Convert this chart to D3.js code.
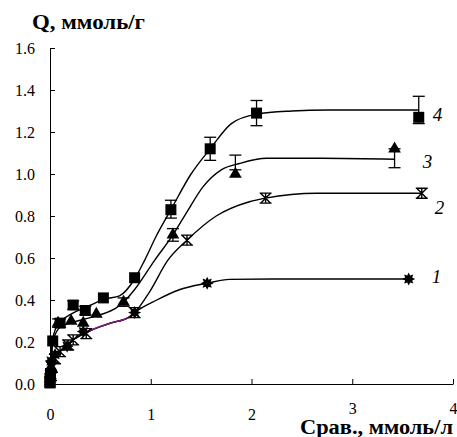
<!DOCTYPE html>
<html>
<head>
<meta charset="utf-8">
<script src="https://cdn.jsdelivr.net/npm/d3@7/dist/d3.min.js"></script>
<style>
  html, body { margin: 0; padding: 0; background: #fff; }
  svg { display: block; }
  svg text { font-family: "Liberation Serif", "Times New Roman", Times, "DejaVu Serif", serif !important; fill: #000; }
</style>
</head>
<body>
<svg id="chart" width="457" height="437"></svg>
<script>
// ---------- data ----------
const xTicks = [0, 1, 2, 3, 4];
const yTicks = [0, 0.2, 0.4, 0.6, 0.8, 1.0, 1.2, 1.4, 1.6];
const yTitle = "Q, ммоль/г";
const xTitle = "Срав., ммоль/л";
const seriesNames = ["1", "2", "3", "4"];

// measured points (markers)
const s4x = [0, 0, 0.005, 0.027, 0.1, 0.23, 0.35, 0.53, 0.84, 1.2, 1.59, 2.05, 3.66];
const s4y = [0.005, 0.025, 0.05, 0.205, 0.29, 0.376, 0.35, 0.41, 0.506, 0.83, 1.12, 1.29, 1.27];
const s4lo = [0, 0, 0, 0, 0.27, 0.356, 0.33, 0, 0, 0.79, 1.065, 1.23, 1.24];
const s4hi = [0, 0, 0, 0, 0.31, 0.396, 0.37, 0, 0, 0.875, 1.175, 1.35, 1.37];

const s3x = [0, 0.005, 0.01, 0.08, 0.21, 0.33, 0.46, 0.73, 1.22, 1.84, 3.42];
const s3y = [0.01, 0.04, 0.08, 0.29, 0.30, 0.29, 0.333, 0.39, 0.71, 1.0, 1.12];
const s3lo = [0, 0, 0, 0.27, 0, 0, 0, 0.37, 0.68, 1.02, 1.03];
const s3hi = [0, 0, 0, 0.31, 0, 0, 0, 0.41, 0.74, 1.09, 1.12];

const s2x = [0, 0.01, 0.02, 0.05, 0.1, 0.18, 0.23, 0.36, 0.84, 1.36, 2.14, 3.69];
const s2y = [0.01, 0.04, 0.08, 0.12, 0.154, 0.186, 0.21, 0.24, 0.34, 0.685, 0.885, 0.908];

const s1x = [0, 0.005, 0.01, 0.05, 0.17, 0.33, 0.84, 1.56, 3.56];
const s1y = [0.01, 0.05, 0.11, 0.14, 0.18, 0.25, 0.34, 0.48, 0.50];

// smoothed fitted curves
const c4x = [0, 0.01, 0.03, 0.08, 0.2, 0.4, 0.55, 0.69, 0.84, 0.94, 1.05, 1.2, 1.4, 1.59, 1.8, 2.05, 2.4, 2.76, 3.66];
const c4y = [0, 0.12, 0.22, 0.285, 0.33, 0.375, 0.405, 0.42, 0.5, 0.59, 0.7, 0.83, 1.0, 1.12, 1.24, 1.285, 1.3, 1.305, 1.305];
const c3x = [0, 0.01, 0.04, 0.1, 0.2, 0.35, 0.5, 0.65, 0.73, 0.84, 1.04, 1.22, 1.36, 1.52, 1.7, 1.88, 2.15, 2.7, 3.42];
const c3y = [0, 0.1, 0.22, 0.27, 0.29, 0.31, 0.33, 0.36, 0.39, 0.45, 0.59, 0.71, 0.82, 0.94, 1.02, 1.05, 1.075, 1.075, 1.07];
const c2x = [0, 0.01, 0.05, 0.1, 0.2, 0.38, 0.6, 0.79, 0.84, 0.99, 1.17, 1.36, 1.65, 1.98, 2.14, 2.65, 3.69];
const c2y = [0, 0.06, 0.12, 0.155, 0.2, 0.25, 0.29, 0.32, 0.34, 0.44, 0.59, 0.685, 0.8, 0.868, 0.885, 0.908, 0.908];
const c1x = [0, 0.01, 0.05, 0.1, 0.2, 0.38, 0.6, 0.79, 0.84, 1.06, 1.29, 1.56, 1.78, 2.2, 3.56];
const c1y = [0, 0.06, 0.12, 0.155, 0.2, 0.25, 0.29, 0.32, 0.34, 0.40, 0.45, 0.48, 0.498, 0.5, 0.5];
const purpleRange = [0.38, 0.80];

// label anchor points in data units
const labelX = [3.79, 3.82, 3.70, 3.80];
const labelY = [0.48, 0.81, 1.03, 1.252];

// ---------- chart ----------
const svg = d3.select("#chart");
const x = d3.scaleLinear().domain([0, 4]).range([50, 453]);
const y = d3.scaleLinear().domain([0, 1.6]).range([384, 48]);
const zip = (a, b) => a.map((v, i) => [v, b[i]]);

// axes
const yAxis = d3.axisLeft(y).tickValues(yTicks).tickFormat(d3.format(".1f"))
  .tickSizeInner(-5).tickSizeOuter(0).tickPadding(15);
const gy = svg.append("g").attr("transform", `translate(${x(0)},0)`).call(yAxis);
const xAxis = d3.axisBottom(x).tickValues(xTicks).tickFormat(d3.format("d"))
  .tickSizeInner(-5).tickSizeOuter(0).tickPadding(25);
const gx = svg.append("g").attr("transform", `translate(0,${y(0)})`).call(xAxis);
[gx, gy].forEach(g => {
  g.attr("font-family", null);
  g.selectAll("path.domain").attr("stroke", "#000").attr("stroke-width", 1);
  g.selectAll(".tick line").attr("stroke", "#000").attr("stroke-width", 1);
  g.selectAll(".tick text").attr("font-size", 16).attr("fill", "#000");
});
gx.selectAll(".tick text").filter(d => d >= 3).attr("transform", "translate(0,-6)");

// titles
svg.append("text").attr("x", 32).attr("y", 29).attr("font-size", 20).attr("font-weight", "bold")
  .attr("textLength", 113).attr("lengthAdjust", "spacingAndGlyphs").text(yTitle);
svg.append("text").attr("x", 300).attr("y", 434).attr("font-size", 20).attr("font-weight", "bold")
  .attr("textLength", 153).attr("lengthAdjust", "spacingAndGlyphs").text(xTitle);

// curves
const line = d3.line().x(d => x(d[0])).y(d => y(d[1])).curve(d3.curveMonotoneX);
const curves = [zip(c1x, c1y), zip(c2x, c2y), zip(c3x, c3y), zip(c4x, c4y)];
curves.forEach(c => {
  svg.append("path").datum(c).attr("d", line).attr("fill", "none").attr("stroke", "#000").attr("stroke-width", 1.4);
});
svg.append("clipPath").attr("id", "pclip").append("rect")
  .attr("x", x(purpleRange[0])).attr("width", x(purpleRange[1]) - x(purpleRange[0]))
  .attr("y", 0).attr("height", 437);
svg.append("path").datum(curves[1]).attr("d", line).attr("fill", "none")
  .attr("stroke", "#7a1e7a").attr("stroke-width", 1.6).attr("clip-path", "url(#pclip)");

// error bars
function errBars(xs, lo, hi) {
  const g = svg.append("g").attr("stroke", "#000").attr("stroke-width", 1.3);
  xs.forEach((xv, i) => {
    if (!(hi[i] > lo[i])) return;
    const cx = x(xv), y1 = y(lo[i]), y2 = y(hi[i]);
    g.append("line").attr("x1", cx).attr("x2", cx).attr("y1", y1).attr("y2", y2);
    g.append("line").attr("x1", cx - 6).attr("x2", cx + 6).attr("y1", y1).attr("y2", y1);
    g.append("line").attr("x1", cx - 6).attr("x2", cx + 6).attr("y1", y2).attr("y2", y2);
  });
}
errBars(s4x, s4lo, s4hi);
errBars(s3x, s3lo, s3hi);

// markers: series 1 spiky stars
const starPath = (() => {
  const pts = [];
  for (let k = 0; k < 16; k++) {
    const a = k * Math.PI / 8;
    const r = k % 2 === 0 ? 6.5 : 3.8;
    pts.push([r * Math.sin(a), -r * Math.cos(a)]);
  }
  return "M" + pts.map(p => p.join(",")).join("L") + "Z";
})();
svg.append("g").selectAll("path").data(zip(s1x, s1y)).join("path")
  .attr("transform", d => `translate(${x(d[0])},${y(d[1])})`)
  .attr("d", starPath).attr("fill", "#000");

// series 2: X with caps
const g2 = svg.append("g").attr("stroke", "#000").attr("stroke-width", 1.4).attr("fill", "none");
zip(s2x, s2y).forEach(d => {
  const cx = x(d[0]), cy = y(d[1]);
  g2.append("path").attr("d", `M${cx - 5},${cy - 5}L${cx + 5},${cy + 5}M${cx - 5},${cy + 5}L${cx + 5},${cy - 5}M${cx - 6},${cy - 5}L${cx + 6},${cy - 5}M${cx - 6},${cy + 5}L${cx + 6},${cy + 5}M${cx},${cy - 5}L${cx},${cy + 5}`);
});

// series 3 triangles
svg.append("g").selectAll("path").data(zip(s3x, s3y)).join("path")
  .attr("transform", d => `translate(${x(d[0])},${y(d[1])})`)
  .attr("d", d3.symbol(d3.symbolTriangle, 70)).attr("fill", "#000");

// series 4 squares
svg.append("g").selectAll("rect").data(zip(s4x, s4y)).join("rect")
  .attr("x", d => x(d[0]) - 5.5).attr("y", d => y(d[1]) - 5.5)
  .attr("width", 11).attr("height", 11).attr("fill", "#000");

// series labels
svg.append("g").selectAll("text").data(seriesNames).join("text")
  .attr("x", (d, i) => x(labelX[i])).attr("y", (d, i) => y(labelY[i]))
  .attr("font-size", 19).attr("font-style", "italic").text(d => d);
</script>
</body>
</html>
